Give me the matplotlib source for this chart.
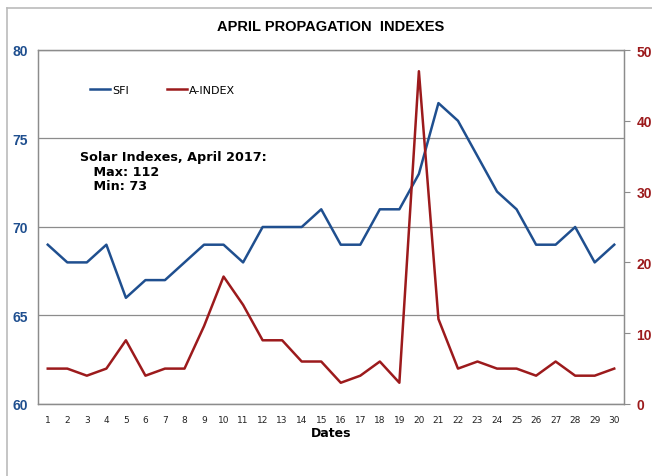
import matplotlib.pyplot as plt
from matplotlib.lines import Line2D

days = list(range(1, 31))
sfi = [69, 68, 68, 69, 66, 67, 67, 68, 69, 69, 68, 70, 70, 70, 71,
       69, 69, 71, 71, 73, 77, 76, 74, 72, 71, 69, 69, 70, 68, 69]
a_index = [5, 5, 4, 5, 9, 4, 5, 5, 11, 18, 14, 9, 9, 6, 6,
           3, 4, 6, 3, 47, 12, 5, 6, 5, 5, 4, 6, 4, 4, 5]
sfi_ticks = [60, 65, 70, 75, 80]
a_ticks = [0, 10, 20, 30, 40, 50]

BLUE = "#1f4f8f"
RED = "#9c1a1c"
GRID = "#8c8c8c"
TICK_FONT = dict(fontsize=10, fontweight="bold", family="Liberation Sans")

fig = plt.figure(figsize=(6.52, 4.77), dpi=100)
ax = fig.add_axes([38 / 652, 72 / 477, 586 / 652, 354 / 477])
ax2 = ax.twinx()

ax.plot(days, sfi, color=BLUE, lw=1.8)
ax2.plot(days, a_index, color=RED, lw=1.8)

ax.set_xlim(0.5, 30.5)
ax.set_ylim(60, 80)
ax2.set_ylim(0, 50)
ax.set_yticks(sfi_ticks, [str(t) for t in sfi_ticks], **TICK_FONT)
ax2.set_yticks(a_ticks, [str(t) for t in a_ticks], **TICK_FONT)
ax.set_xticks(days, [str(d) for d in days], fontsize=6.5, color="#222222")
ax.tick_params(axis="x", length=0, pad=8)
ax.tick_params(axis="y", length=0, pad=7, labelcolor=BLUE)
ax2.tick_params(axis="y", length=4, pad=5, labelcolor=RED, color=GRID)

ax.grid(axis="y", color=GRID, lw=0.9)
ax.set_axisbelow(True)
for a in (ax, ax2):
    for sp in a.spines.values():
        sp.set_color(GRID)
        sp.set_linewidth(0.9)

ax.set_xlabel("Dates", fontsize=9, fontweight="bold", labelpad=1.5)
fig.text(331 / 652, 1 - 27 / 477, "APRIL PROPAGATION  INDEXES",
         ha="center", va="center", fontsize=10.5, fontweight="bold",
         family="Liberation Sans")

fig.text(80 / 652, 1 - 172 / 477,
         "Solar Indexes, April 2017:\n   Max: 112\n   Min: 73",
         ha="left", va="center", fontsize=9.2, fontweight="bold",
         linespacing=1.15)

handles = [Line2D([], [], color=BLUE, lw=1.8),
           Line2D([], [], color=RED, lw=1.8)]
fig.legend(handles, ["SFI", "A-INDEX"], loc="center left",
           bbox_to_anchor=(80 / 652, 1 - 91 / 477), ncol=2, frameon=False,
           fontsize=8, handlelength=1.8, handletextpad=0.2,
           columnspacing=3.4)

# outer chart frame (top and left edges visible)
fig.add_artist(Line2D([7 / 652, 7 / 652], [0, 1 - 9 / 477],
                      color="#bbbbbb", lw=1.2))
fig.add_artist(Line2D([7 / 652, 1], [1 - 9 / 477, 1 - 9 / 477],
                      color="#bbbbbb", lw=1.2))

fig.savefig("out.png", dpi=100)
